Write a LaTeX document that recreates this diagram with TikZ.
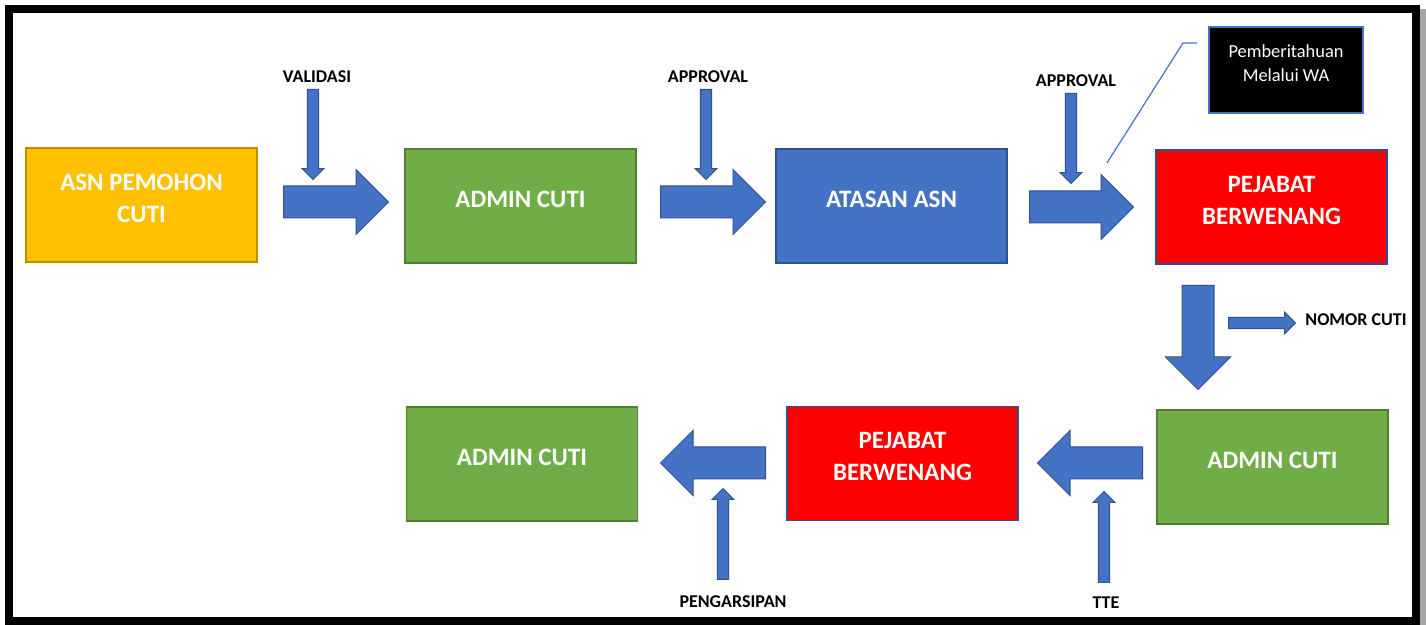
\documentclass[tikz,border=0pt]{standalone}
\usepackage{fontspec}
\setmainfont{Carlito}
\usetikzlibrary{shapes.arrows}
\definecolor{gold}{HTML}{FFC000}
\definecolor{goldedge}{HTML}{BF9000}
\definecolor{leaf}{HTML}{70AD47}
\definecolor{leafedge}{HTML}{507E32}
\definecolor{steel}{HTML}{4472C4}
\definecolor{steeledge}{HTML}{2F528F}
\definecolor{alarm}{HTML}{FF0000}

\begin{document}
\begin{tikzpicture}[
  x=0.5pt, y=-0.5pt,
  box/.style={rectangle, line width=0.6pt, minimum width=115.5pt, minimum height=57pt, inner sep=0pt, align=center, text=white, text depth=7pt, font=\fontsize{12.5}{16}\selectfont\bfseries},
  notice/.style={rectangle, fill=black, draw=steel, line width=0.6pt, minimum width=77pt, minimum height=43pt, inner sep=0pt, align=center, text=white, text depth=7pt, font=\fontsize{9.2}{12}\selectfont},
  tag/.style={inner sep=0pt, font=\fontsize{9}{11}\selectfont\bfseries},
  fatarrow/.style={single arrow, draw=steeledge, fill=steel, line width=0.5pt, inner sep=7.75pt, single arrow head extend=8.25pt, minimum height=#1, anchor=tail},
  thinarrow/.style={single arrow, draw=steeledge, fill=steel, line width=0.5pt, inner sep=2.6pt, single arrow head extend=2.6pt, minimum height=#1, anchor=tail}
]
\useasboundingbox (0,0) rectangle (1426,625);
\draw[line width=4pt, black!35] (13,13) rectangle (1422,627);
\draw[line width=4pt, fill=white] (9,9) rectangle (1416,621);

\node[box, fill=gold, draw=goldedge] (asn) at (141.5,205) {ASN PEMOHON\\CUTI};
\node[box, fill=leaf, draw=leafedge] (admin) at (520.5,206) {ADMIN CUTI};
\node[box, fill=steel, draw=steeledge] (atasan) at (891.5,206) {ATASAN ASN};
\node[box, fill=alarm, draw=steeledge] (pejabat) at (1271.5,207) {PEJABAT\\BERWENANG};
\node[box, fill=leaf, draw=leafedge] (adminnomor) at (1272.5,467) {ADMIN CUTI};
\node[box, fill=alarm, draw=steeledge] (pejabattte) at (902.5,463.5) {PEJABAT\\BERWENANG};
\node[box, fill=leaf, draw=leafedge] (adminarsip) at (522,464) {ADMIN CUTI};
\node[notice] (wa) at (1286,70) {Pemberitahuan\\Melalui WA};

\node[tag] (validasi) at (317,77) {VALIDASI};
\node[tag] (approval) at (708,77) {APPROVAL};
\node[tag] (approvalb) at (1076,81) {APPROVAL};
\node[tag] (nomor) at (1356,320) {NOMOR CUTI};
\node[tag] (tte) at (1106,603) {TTE};
\node[tag] (arsip) at (733,602) {PENGARSIPAN};

\node[fatarrow=52.5pt] (asn2admin) at (283,202) {};
\node[fatarrow=52.5pt] (admin2atasan) at (660,202) {};
\node[fatarrow=52pt] (atasan2pejabat) at (1029,207) {};
\node[fatarrow=52pt, shape border rotate=270] (pejabat2admin) at (1198,285) {};
\node[fatarrow=52.5pt, shape border rotate=180] (admin2pejabat) at (1143,463) {};
\node[fatarrow=52.5pt, shape border rotate=180] (pejabat2arsip) at (766,463) {};

\node[thinarrow=45pt, shape border rotate=270] (validasiarr) at (313,89) {};
\node[thinarrow=45pt, shape border rotate=270] (approvalarr) at (706,89) {};
\node[thinarrow=45pt, shape border rotate=270] (approvalarrb) at (1071,93) {};
\node[thinarrow=33.5pt] (nomorarr) at (1228,323) {};
\node[thinarrow=45.5pt, shape border rotate=90] (ttearr) at (1104,583) {};
\node[thinarrow=45.5pt, shape border rotate=90] (arsiparr) at (723,580) {};

\coordinate (calltip) at (1107,163);
\coordinate (callbend) at (1183,43);
\coordinate (callend) at (1197,43);
\draw[steel, line width=0.6pt] (calltip) -- (callbend) -- (callend);
\end{tikzpicture}
\end{document}
